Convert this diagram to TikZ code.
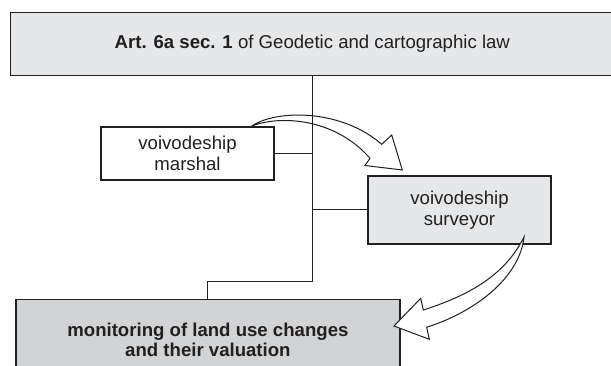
\documentclass[tikz,border=0pt]{standalone}
\usepackage{fontspec}
\setmainfont{Liberation Sans}
\definecolor{ink}{HTML}{231F20}
\definecolor{lightfill}{HTML}{E6E7E8}
\definecolor{darkfill}{HTML}{D1D3D4}
\tikzset{
  box/.style={draw=ink, line width=1.5pt, rectangle, inner sep=0pt, align=center,
    text=ink, font=\fontsize{18.6}{20.5}\selectfont},
  conn/.style={draw=ink, line width=1pt},
  blockarrow/.style={draw=ink, fill=white, line width=1pt, line join=miter}
}
\begin{document}
\begin{tikzpicture}[x=1pt,y=-1pt]
\path[use as bounding box] (0,0) rectangle (611,366);
\clip (0,0) rectangle (611,366);
% boxes
\node[box, fill=lightfill, minimum width=603.3pt, minimum height=63.4pt] (top) at (312.3,44)
  {\textbf{Art. 6a sec. 1} of Geodetic and cartographic law};
\node[box, fill=white, minimum width=173pt, minimum height=53pt] (marshal) at (187.5,153.5)
  {voivodeship\\marshal};
\node[box, fill=lightfill, minimum width=183pt, minimum height=68pt] (surveyor) at (459.5,210)
  {voivodeship\\surveyor};
\node[box, fill=darkfill, minimum width=384.3pt, minimum height=81.4pt] (bottom) at (207.9,340)
  {\textbf{monitoring of land use changes}\\\textbf{and their valuation}};
% block arrows
\path[blockarrow] (252,126) .. controls (275,110) and (340,108) .. (381.7,144.3)
  -- (391.7,135) -- (402.3,170) -- (365,165.5) -- (370,158.3)
  .. controls (335,118) and (280,115) .. (252,126) -- cycle;
\path[blockarrow] (524,237) .. controls (505,275) and (470,295) .. (423.3,310)
  -- (420.7,298.3) -- (394,326) -- (429.3,339.3) -- (426.7,327.3)
  .. controls (480,310) and (520,275) .. (524,237) -- cycle;
% connectors
\coordinate (bend) at (312.3,281.7);
\draw[conn] (top.south) -- (bend) -| (bottom.north);
\draw[conn] (marshal.east) -- (marshal.east -| top.south);
\draw[conn] (surveyor.west) -- (surveyor.west -| top.south);
\end{tikzpicture}
\end{document}
